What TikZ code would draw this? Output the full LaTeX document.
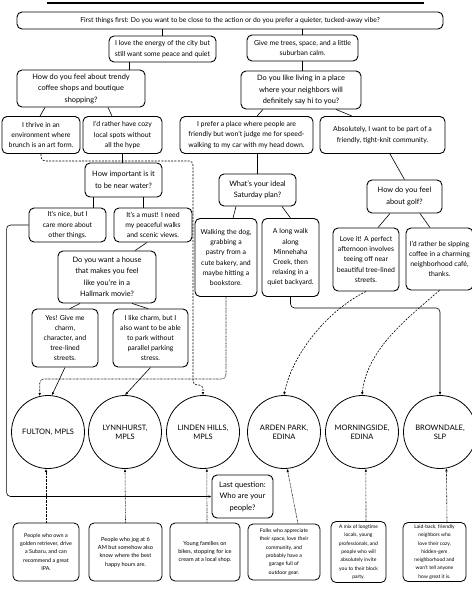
\documentclass[tikz,border=0pt]{standalone}
\usepackage{fontspec}
\setmainfont{Lato}
\usetikzlibrary{arrows.meta, positioning, calc}

\begin{document}
\begin{tikzpicture}[x=1pt, y=-1pt,
    qbox/.style={draw, rounded corners=5pt, line width=0.9pt, align=center, inner sep=1pt,
      font=\fontsize{7.4}{11.5}\selectfont},
    abox/.style={qbox, font=\fontsize{6.9}{10.2}\selectfont},
    hood/.style={draw, circle, line width=0.8pt, minimum size=73pt, inner sep=0pt, align=center,
      font=\fontsize{7.5}{9}\selectfont},
    whobox/.style={qbox, line width=0.8pt},
    link/.style={line width=0.6pt},
    tip/.style={-{Latex[length=3pt,width=2.6pt]}},
    dashlink/.style={link, tip, dash pattern=on 2pt off 1.3pt, rounded corners=4pt},
    dotlink/.style={link, tip, dash pattern=on 0.7pt off 0.7pt, rounded corners=4pt}]
  \path[use as bounding box, fill=white] (0,0) rectangle (472,590);
  \draw[line width=2.4pt] (47,3) -- (424,3);

  \node[qbox, minimum width=426pt, minimum height=17pt, font=\fontsize{6.8}{9}\selectfont] (first) at (230,20.5)
    {First things first: Do you want to be close to the action or do you prefer a quieter, tucked-away vibe?};
  \node[abox, minimum width=107pt, minimum height=26pt] (city) at (162.5,49)
    {I love the energy of the city but\\still want some peace and quiet};
  \node[abox, minimum width=111pt, minimum height=26pt] (suburb) at (302.5,48)
    {Give me trees, space, and a little\\suburban calm.};
  \node[qbox, minimum width=128pt, minimum height=37pt] (trendy) at (81,88.5)
    {How do you feel about trendy\\coffee shops and boutique\\shopping?};
  \node[qbox, minimum width=120pt, minimum height=38pt] (hello) at (301,90)
    {Do you like living in a place\\where your neighbors will\\definitely say hi to you?};
  \node[abox, minimum width=78pt, minimum height=37pt] (brunch) at (41,135)
    {I thrive in an\\environment where\\brunch is an art form.};
  \node[abox, minimum width=79pt, minimum height=37pt] (cozy) at (122.5,135)
    {I'd rather have cozy\\local spots without\\all the hype};
  \node[abox, minimum width=133pt, minimum height=37pt] (speedwalk) at (246.5,135)
    {I prefer a place where people are\\friendly but won't judge me for speed-\\walking to my car with my head down.};
  \node[abox, minimum width=125pt, minimum height=37pt] (community) at (382.5,135)
    {Absolutely, I want to be part of a\\friendly, tight-knit community.};
  \node[qbox, minimum width=77pt, minimum height=34pt] (water) at (123.5,180)
    {How important is it\\to be near water?};
  \node[abox, minimum width=77pt, minimum height=34pt] (nice) at (67.5,225)
    {It's nice, but I\\care more about\\other things.};
  \node[abox, minimum width=78pt, minimum height=34pt] (must) at (153,225)
    {It's a must! I need\\my peaceful walks\\and scenic views.};
  \node[qbox, minimum width=98pt, minimum height=52pt] (hallmark) at (107,277)
    {Do you want a house\\that makes you feel\\like you're in a\\Hallmark movie?};
  \node[abox, minimum width=66pt, minimum height=58pt] (charm) at (65,338)
    {Yes! Give me\\charm,\\character, and\\tree-lined\\streets.};
  \node[abox, minimum width=75pt, minimum height=58pt] (parking) at (150.5,338)
    {I like charm, but I\\also want to be able\\to park without\\parallel parking\\stress.};
  \node[qbox, minimum width=77pt, minimum height=32pt] (saturday) at (257.5,190)
    {What's your ideal\\Saturday plan?};
  \node[abox, minimum width=62pt, minimum height=78pt] (dogwalk) at (226,257.5)
    {Walking the dog,\\grabbing a\\pastry from a\\cute bakery, and\\maybe hitting a\\bookstore.};
  \node[abox, minimum width=57pt, minimum height=78pt] (creek) at (290.5,257.5)
    {A long walk\\along\\Minnehaha\\Creek, then\\relaxing in a\\quiet backyard.};
  \node[qbox, minimum width=75pt, minimum height=33pt] (golf) at (404.5,196.5)
    {How do you feel\\about golf?};
  \node[abox, minimum width=66pt, minimum height=63pt] (teeoff) at (366,259.5)
    {Love it! A perfect\\afternoon involves\\teeing off near\\beautiful tree-lined\\streets.};
  \node[abox, minimum width=67pt, minimum height=62pt] (sipping) at (439.5,259)
    {I'd rather be sipping\\coffee in a charming\\neighborhood café,\\thanks.};
  \node[qbox, minimum width=61pt, minimum height=43pt, font=\fontsize{7.6}{11.5}\selectfont] (lastq) at (242.5,496.5)
    {Last question:\\Who are your\\people?};

  \foreach \name/\x/\label in {fulton/48/{FULTON, MPLS}, lynnhurst/125/{LYNNHURST,\\MPLS},
      linden/203/{LINDEN HILLS,\\MPLS}, arden/284/{ARDEN PARK,\\EDINA},
      morningside/362/{MORNINGSIDE,\\EDINA}, browndale/440/{BROWNDALE,\\SLP}}
    \node[hood] (\name) at (\x,432) {\label};

  \foreach \name/\x/\w/\h/\fs/\txt in {
      wfulton/46/66/58/5.4/{People who own a\\golden retriever, drive\\a Subaru, and can\\recommend a great\\IPA.},
      wlynn/125.5/73/58/5.6/{People who jog at 6\\AM but somehow also\\know where the best\\happy hours are.},
      wlinden/205/70/58/5.6/{Young families on\\bikes, stopping for ice\\cream at a local shop.},
      warden/284/72/56/5.2/{Folks who appreciate\\their space, love their\\community, and\\probably have a\\garage full of\\outdoor gear.},
      wmorning/358.5/55/61/5/{A mix of longtime\\locals, young\\professionals, and\\people who will\\absolutely invite\\you to their block\\party.},
      wbrown/434.5/63/59/5/{Laid-back, friendly\\neighbors who\\love their cozy,\\hidden-gem\\neighborhood and\\won't tell anyone\\how great it is.}}
    \node[whobox, minimum width=\w pt, minimum height=\h pt, font=\fontsize{\fs}{8.3}\selectfont]
      (\name) at (\x,552) {\txt};

  \draw[link] (city.north |- first.south) -- (city.north);
  \draw[link] (suburb.north |- first.south) -- (suburb.north);
  \draw[link] ([xshift=-33.5pt]city.south) -- ([xshift=48pt]trendy.north);
  \draw[link] (suburb.south) -- (suburb.south |- hello.north);
  \draw[link] ([xshift=-36pt]trendy.south) -- ([xshift=-1pt]brunch.north);
  \draw[link] ([xshift=27pt]trendy.south) -- ([xshift=-10.5pt]cozy.north);
  \draw[link] ([xshift=-38pt]hello.south) -- ([xshift=10.5pt]speedwalk.north);
  \draw[link] ([xshift=35pt]hello.south) -- ([xshift=-30.5pt]community.north);
  \draw[link] (cozy.south) -- (cozy.south |- water.north);
  \draw[link] ([xshift=-30.5pt]water.south) -- ([xshift=25.5pt]nice.north);
  \draw[link] ([xshift=19.5pt]water.south) -- ([xshift=-10pt]must.north);
  \draw[link] ([xshift=-6pt]must.south) -- ([xshift=28pt]hallmark.north);
  \draw[link] ([xshift=-27pt]hallmark.south) -- ([xshift=5pt]charm.north);
  \draw[link] ([xshift=25pt]hallmark.south) -- ([xshift=-2.5pt]parking.north);
  \draw[link, tip] (charm.south) -- (fulton.84);
  \draw[link, tip] (parking.south) -- (lynnhurst.north);
  \draw[link] (saturday.north |- speedwalk.south) -- (saturday.north);
  \draw[link] ([xshift=-21.5pt]saturday.south) -- ([xshift=7pt]dogwalk.north);
  \draw[link] ([xshift=24.5pt]saturday.south) -- (creek.north);
  \draw[link] ([xshift=7.5pt]community.south) -- (golf.north);
  \draw[link] ([xshift=-14.5pt]golf.south) -- ([xshift=12pt]teeoff.north);
  \draw[link] ([xshift=15.5pt]golf.south) -- ([xshift=-9.5pt]sipping.north);

  \draw[dashlink] (brunch.south) |- ++(152,7) -- ++(0,224) -| (linden.north);
  \draw[link, tip, rounded corners=4pt] (nice.west) -| ++(-22,271.5) -- (lastq.west);
  \draw[dotlink] (dogwalk.south) -- ++(0,82) -| (fulton.103);
  \draw[link, tip, rounded corners=4pt] (creek.south) -- ++(0,11) -| (browndale.north);
  \draw[dashlink] (teeoff.south) .. controls +(-40,20) and +(8,-40) .. (arden.north);
  \draw[dashlink] (sipping.south) .. controls +(-35,30) and +(5,-45) .. (morningside.north);

  \draw[dotlink] (wfulton.north) -- (wfulton.north |- fulton.south);
  \draw[dotlink] (wlynn.north) -- (lynnhurst.south);
  \draw[dotlink] ([xshift=2pt]wlinden.north) -- (linden.-84);
  \draw[dotlink] ([xshift=14pt]warden.north) -- (arden.-85);
  \draw[dotlink] ([xshift=7.5pt]wmorning.north) -- (morningside.-84);
  \draw[dotlink] ([xshift=12.5pt]wbrown.north) -- (browndale.-80);
\end{tikzpicture}
\end{document}
